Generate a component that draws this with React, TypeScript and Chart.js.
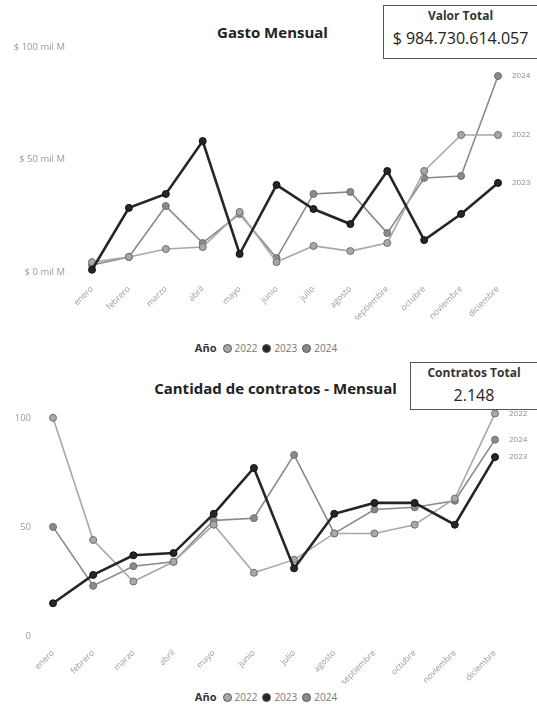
import React, { useEffect, useRef } from 'react';
import { Chart, registerables } from 'chart.js';
Chart.register(...registerables);

const MONTHS = ['enero', 'febrero', 'marzo', 'abril', 'mayo', 'junio', 'julio', 'agosto', 'septiembre', 'octubre', 'noviembre', 'diciembre'];
const YEARS = ['2022', '2023', '2024'];
const COLORS = ['#a8a8a8', '#262626', '#8a8a8a'];
const WIDTHS = [1.6, 2.6, 1.6];

// Gasto mensual (mil M de pesos)
const GASTO_2022 = [4.4, 6.7, 10.2, 11.1, 26.7, 4.4, 11.6, 9.3, 12.9, 44.9, 60.9, 60.9];
const GASTO_2023 = [1.0, 28.5, 34.7, 58.2, 8.0, 38.7, 28.0, 21.3, 44.9, 14.2, 25.8, 39.6];
const GASTO_2024 = [3.1, 6.7, 29.3, 12.9, 25.8, 6.2, 34.7, 35.6, 17.3, 41.8, 42.7, 87.1];
const GASTO_TICKS = [0, 50, 100];

// Cantidad de contratos mensual
const CONTRATOS_2022 = [100, 44, 25, 34, 51, 29, 35, 47, 47, 51, 63, 102];
const CONTRATOS_2023 = [15, 28, 37, 38, 56, 77, 31, 56, 61, 61, 51, 82];
const CONTRATOS_2024 = [50, 23, 32, 34, 53, 54, 83, 47, 58, 59, 62, 90];
const CONTRATOS_TICKS = [0, 50, 100];

const VALOR_TOTAL = '$ 984.730.614.057';
const CONTRATOS_TOTAL = '2.148';

const FONT = "'Segoe UI', 'Open Sans', 'DejaVu Sans', sans-serif";

const endLabels = {
  id: 'endLabels',
  afterDatasetsDraw(chart: any) {
    const ctx = chart.ctx;
    ctx.save();
    ctx.font = `8px ${FONT}`;
    ctx.fillStyle = '#8a8a8a';
    ctx.textBaseline = 'middle';
    const used: number[] = [];
    chart.data.datasets.forEach((ds: any, i: number) => {
      const meta = chart.getDatasetMeta(i);
      const pt = meta.data[meta.data.length - 1];
      if (!pt) return;
      if (used.some((u) => Math.abs(u - pt.y) < 12)) return;
      used.push(pt.y);
      ctx.fillText(ds.label, pt.x + 14, pt.y);
    });
    ctx.restore();
  },
};

type LCProps = {
  top: number;
  height: number;
  padTop: number;
  yWidth: number;
  padRight: number;
  yMax: number;
  ticks: number[];
  fmt: (v: number) => string;
  tickPad: number;
  series: number[][];
};

function LineChart(p: LCProps) {
  const ref = useRef<HTMLCanvasElement | null>(null);
  useEffect(() => {
    if (!ref.current) return;
    const chart = new Chart(ref.current, {
      type: 'line',
      data: {
        labels: MONTHS,
        datasets: p.series.map((s, i) => ({
          label: YEARS[i],
          data: s,
          borderColor: COLORS[i],
          backgroundColor: COLORS[i],
          borderWidth: WIDTHS[i],
          pointRadius: 3.5,
          pointBorderWidth: 1,
          pointBorderColor: i === 1 ? '#111' : '#6f6f6f',
          pointBackgroundColor: COLORS[i],
          clip: false as any,
          tension: 0,
          order: i === 1 ? 0 : 1,
        })),
      },
      options: {
        animation: false,
        responsive: false,
        maintainAspectRatio: false,
        layout: { padding: { top: p.padTop, right: p.padRight, left: 0, bottom: 0 } },
        plugins: { legend: { display: false }, title: { display: false }, tooltip: { enabled: false } },
        scales: {
          x: {
            type: 'category',
            offset: false,
            grid: { display: false },
            border: { display: false },
            ticks: {
              autoSkip: false,
              minRotation: 45,
              maxRotation: 45,
              color: '#9a9a9a',
              font: { family: FONT, size: 8.5 },
              padding: 4,
            },
            afterFit: (s: any) => { s.height = 48; },
          },
          y: {
            min: 0,
            max: p.yMax,
            grid: { display: false },
            border: { display: false },
            afterBuildTicks: (s: any) => { s.ticks = p.ticks.map((v) => ({ value: v })); },
            ticks: {
              color: '#9a9a9a',
              font: { family: FONT, size: 9.5 },
              padding: p.tickPad,
              callback: (v: any) => p.fmt(Number(v)),
            },
            afterFit: (s: any) => { s.width = p.yWidth; },
          },
        },
      },
      plugins: [endLabels],
    });
    return () => chart.destroy();
  }, []);
  return (
    <canvas
      ref={ref}
      width={537}
      height={p.height}
      style={{ position: 'absolute', left: 0, top: p.top, width: 537, height: p.height }}
    />
  );
}

function Legend({ top }: { top: number }) {
  return (
    <div style={{ position: 'absolute', left: 0, top, width: 537, textAlign: 'center', fontFamily: FONT, fontSize: 10, color: '#777', lineHeight: '14px', whiteSpace: 'nowrap' }}>
      <span style={{ fontWeight: 700, color: '#333', fontSize: 11, marginRight: 6 }}>Año</span>
      {YEARS.map((y, i) => (
        <span key={y} style={{ marginRight: 5 }}>
          <span style={{ display: 'inline-block', width: 9, height: 9, borderRadius: '50%', background: COLORS[i], border: '1px solid #555', boxSizing: 'border-box', verticalAlign: -1, marginRight: 3 }} />
          {y}
        </span>
      ))}
    </div>
  );
}

function Card({ left, top, height, title, value }: { left: number; top: number; height: number; title: string; value: string }) {
  return (
    <div style={{ position: 'absolute', left, top, width: 537 - left - 1, height, border: '1px solid #555', borderRight: 'none', fontFamily: FONT, textAlign: 'center', background: '#fff' }}>
      <div style={{ fontWeight: 700, fontSize: 12, color: '#333', marginTop: 2, lineHeight: '16px' }}>{title}</div>
      <div style={{ fontSize: 16, color: '#222', marginTop: 4, lineHeight: '20px' }}>{value}</div>
    </div>
  );
}

export default function App() {
  return (
    <div style={{ position: 'absolute', left: 0, top: 0, width: 537, height: 715, background: '#fff', overflow: 'hidden' }}>
      <div style={{ position: 'absolute', left: 0, top: 22, width: 537, textAlign: 'center', fontFamily: FONT, fontWeight: 700, fontSize: 15, color: '#222', paddingLeft: 8, boxSizing: 'border-box' }}>Gasto Mensual</div>
      <LineChart
        top={0}
        height={320}
        padTop={47}
        yWidth={92}
        padRight={39}
        yMax={100}
        ticks={GASTO_TICKS}
        fmt={(v) => `$ ${v} mil M`}
        tickPad={19}
        series={[GASTO_2022, GASTO_2023, GASTO_2024]}
      />
      <Card left={383} top={5} height={52} title="Valor Total" value={VALOR_TOTAL} />
      <Legend top={341} />

      <div style={{ position: 'absolute', left: 0, top: 378, width: 537, textAlign: 'center', fontFamily: FONT, fontWeight: 700, fontSize: 15, color: '#222', paddingLeft: 14, boxSizing: 'border-box' }}>Cantidad de contratos - Mensual</div>
      <LineChart
        top={357}
        height={327}
        padTop={39}
        yWidth={53}
        padRight={42}
        yMax={110}
        ticks={CONTRATOS_TICKS}
        fmt={(v) => `${v}`}
        tickPad={14}
        series={[CONTRATOS_2022, CONTRATOS_2023, CONTRATOS_2024]}
      />
      <Card left={410} top={362} height={46} title="Contratos Total" value={CONTRATOS_TOTAL} />
      <Legend top={690} />
    </div>
  );
}
